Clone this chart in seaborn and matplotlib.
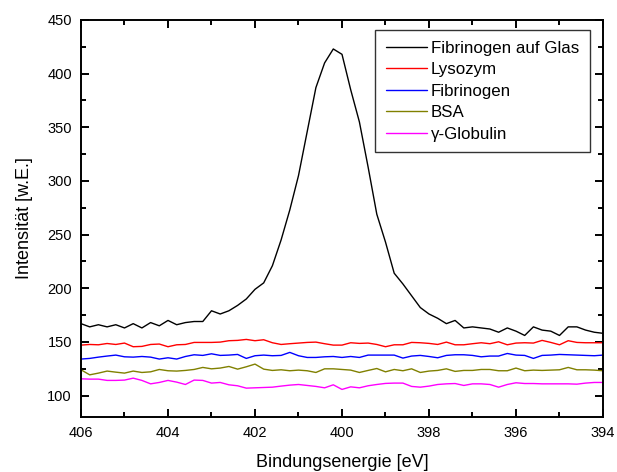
import numpy as np
import pandas as pd
import seaborn as sns
import matplotlib.pyplot as plt
from matplotlib.ticker import MultipleLocator

# binding energy axis, 0.2 eV steps from 406 down to 394
energy = np.round(np.arange(406.0, 393.99, -0.2), 1)

fibrinogen_glas = [
    167, 164, 166, 164, 166, 163, 167, 163, 168, 165,
    170, 166, 168, 169, 169, 179, 176, 179, 184, 190,
    199, 205, 221, 245, 273, 305, 346, 387, 410, 423,
    418, 385, 355, 313, 269, 243, 214, 204, 193, 182,
    176, 172, 167, 170, 163, 164, 163, 162, 159, 163,
    160, 156, 164, 161, 160, 156, 164, 164, 161, 159,
    158,
]
lysozym = [
    147.0, 147.6, 147.3, 148.5, 147.6, 148.9, 145.5, 145.8, 147.6, 148.0,
    145.5, 147.3, 147.6, 149.5, 149.5, 149.5, 149.8, 151.1, 151.4, 152.3,
    151.1, 152.0, 149.2, 147.6, 148.3, 148.9, 149.5, 149.8, 148.3, 147.0,
    147.0, 149.2, 148.6, 148.9, 147.6, 145.5, 147.3, 147.3, 149.5, 149.2,
    148.6, 147.6, 149.8, 147.3, 147.3, 148.3, 149.2, 148.3, 150.1, 147.3,
    148.9, 149.2, 148.9, 151.4, 149.5, 147.3, 151.1, 149.5, 149.2, 149.2,
    149.2,
]
fibrinogen = [
    134.0, 134.6, 135.8, 136.8, 137.7, 136.1, 135.8, 136.4, 135.8, 134.0,
    135.2, 134.0, 136.4, 138.0, 137.4, 138.9, 137.4, 137.7, 138.3, 134.6,
    137.1, 137.7, 137.1, 137.4, 140.2, 137.1, 135.5, 135.5, 136.1, 136.4,
    135.5, 136.4, 135.5, 137.7, 137.7, 137.7, 137.7, 134.9, 136.8, 137.4,
    136.4, 135.2, 137.4, 138.0, 138.0, 137.4, 136.1, 136.8, 136.8, 139.2,
    137.7, 137.4, 134.6, 137.4, 137.7, 138.3, 138.0, 137.7, 137.4, 137.1,
    137.7,
]
bsa = [
    124.0, 119.3, 120.9, 122.8, 121.8, 120.9, 122.8, 121.5, 122.1, 124.3,
    123.1, 122.8, 123.4, 124.3, 126.2, 124.9, 125.6, 127.1, 124.6, 126.8,
    129.3, 124.6, 123.4, 124.0, 123.1, 123.7, 123.1, 121.5, 124.9, 124.9,
    124.3, 123.7, 121.5, 123.4, 125.2, 122.1, 124.3, 123.1, 124.9, 121.5,
    122.8, 123.4, 124.9, 122.5, 123.4, 123.4, 124.3, 124.3, 123.1, 123.1,
    125.6, 123.1, 123.7, 123.4, 123.7, 124.0, 126.2, 124.0, 124.0, 123.7,
    123.1,
]
globulin = [
    115.6, 115.3, 115.3, 114.1, 114.1, 114.4, 116.2, 114.1, 110.9, 112.2,
    114.1, 112.5, 110.3, 114.4, 114.1, 111.6, 112.2, 110.0, 109.1, 106.9,
    107.2, 107.5, 107.8, 108.8, 109.7, 110.3, 109.4, 108.5, 107.2, 110.0,
    105.7, 108.1, 107.2, 109.1, 110.3, 111.3, 111.6, 111.6, 108.5, 107.8,
    108.8, 110.3, 110.9, 111.2, 109.4, 110.9, 110.9, 110.3, 107.8, 110.3,
    111.9, 111.2, 111.2, 110.9, 110.9, 110.9, 110.9, 110.6, 111.6, 112.2,
    112.2,
]

series_names = ["Fibrinogen auf Glas", "Lysozym", "Fibrinogen", "BSA", "\u03b3-Globulin"]
series_values = [fibrinogen_glas, lysozym, fibrinogen, bsa, globulin]
series_colors = ["#000000", "#ff0000", "#0000ff", "#808000", "#ff00ff"]

frames = []
for name, vals in zip(series_names, series_values):
    frames.append(pd.DataFrame({"energy": energy, "value": vals, "series": name}))
df = pd.concat(frames, ignore_index=True)

sns.set_style("ticks")
plt.rcParams["font.family"] = ["Liberation Sans", "DejaVu Sans"]
plt.rcParams["text.color"] = "black"
plt.rcParams["axes.labelcolor"] = "black"

fig = plt.figure(figsize=(6.17, 4.72), dpi=100)
ax = fig.add_axes([81 / 617, 1 - 417 / 472, 522 / 617, 397 / 472])

sns.lineplot(data=df, x="energy", y="value", hue="series", hue_order=series_names,
             palette=dict(zip(series_names, series_colors)), linewidth=1.0,
             sort=False, estimator=None, ax=ax)

ax.set_xlim(406, 394)
ax.set_ylim(80, 450)
ax.xaxis.set_major_locator(MultipleLocator(2))
ax.xaxis.set_minor_locator(MultipleLocator(1))
ax.yaxis.set_major_locator(MultipleLocator(50))
ax.yaxis.set_minor_locator(MultipleLocator(25))
ax.tick_params(which="both", direction="in", top=True, right=True, width=1.4,
               colors="black", labelsize=10.5, pad=6.5)
ax.tick_params(which="major", length=6)
ax.tick_params(which="minor", length=3.3)
for sp in ax.spines.values():
    sp.set_linewidth(1.4)
    sp.set_color("black")

ax.set_xlabel("Bindungsenergie [eV]", fontsize=13, labelpad=10)
ax.set_ylabel("Intensität [w.E.]", fontsize=13, labelpad=10)

handles, labels = ax.get_legend_handles_labels()
leg = ax.legend(handles, labels, loc="upper right", fontsize=12.2,
                bbox_to_anchor=(589.5 / 617, 1 - 30 / 472), bbox_transform=fig.transFigure,
                borderaxespad=0, handlelength=2.4, handletextpad=0.25,
                labelspacing=0.39, borderpad=0.62, fancybox=False, framealpha=1)
leg.get_frame().set_edgecolor("#333333")
leg.get_frame().set_linewidth(1.0)

fig.savefig("out.png", dpi=100)
